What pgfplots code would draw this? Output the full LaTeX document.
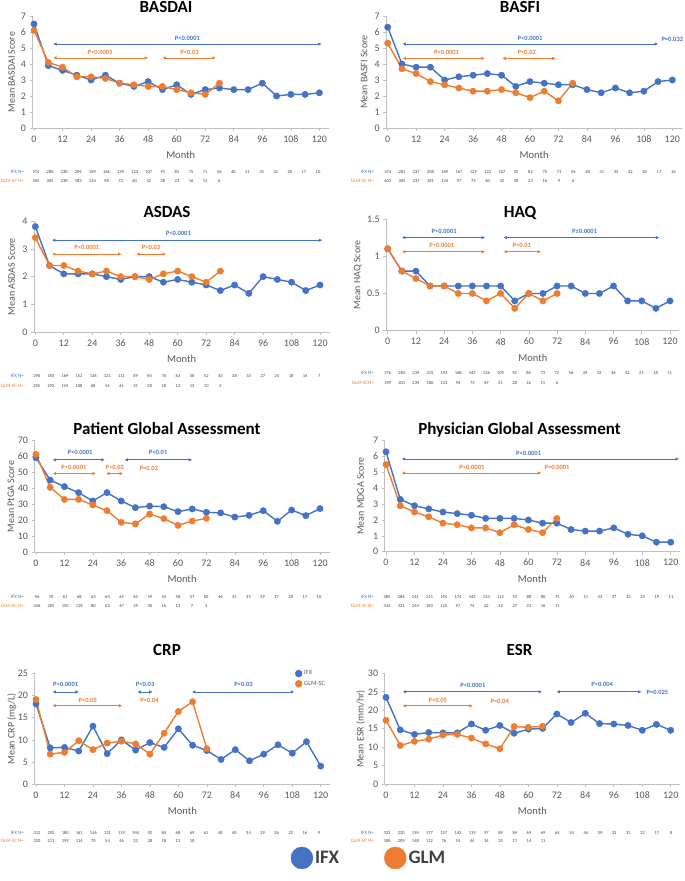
\documentclass[border=0pt]{standalone}
\usepackage{fontspec}
\setmainfont{Carlito}
\usepackage{pgfplots}
\pgfplotsset{compat=1.18}
\usetikzlibrary{arrows.meta}
\definecolor{ifx}{HTML}{4472C4}
\definecolor{glm}{HTML}{ED7D31}
\definecolor{axgray}{HTML}{BFBFBF}
\definecolor{tkgray}{HTML}{595959}
\definecolor{ntgray}{HTML}{404040}
\tikzset{
  arr/.style={line width=0.75pt,{Latex[length=3.5pt,width=3.5pt]}-{Latex[length=3.5pt,width=3.5pt]}},
  ptxt/.style={font=\fontsize{6.5}{7}\selectfont\bfseries,inner sep=0pt},
  ttl/.style={font=\fontsize{17}{20}\selectfont\bfseries,anchor=base,inner sep=0pt},
}
\pgfplotsset{
  panel/.style={scale only axis, clip=false, axis x line=bottom, axis y line=left,
    axis line style={draw=axgray,line width=0.6pt,-},
    xmin=-0.6, xmax=124, xtick={0,12,...,120}, ymin=0,
    tick style={draw=axgray,line width=0.6pt}, major tick length=3pt, tick align=outside,
    ticklabel style={font=\fontsize{10}{12}\selectfont,text=tkgray},
    xticklabel style={yshift=-1pt},
    /pgf/number format/assume math mode=true,
    xlabel={Month},
    every axis x label/.style={at={(axis description cs:0.5,0)},anchor=center,yshift=-27pt,font=\fontsize{10.5}{12}\selectfont,text=tkgray},
  },
  ylab/.style={every axis y label/.style={at={(axis description cs:#1,0.5)},rotate=90,anchor=center,font=\fontsize{10}{12}\selectfont,text=tkgray}},
  ifxp/.style={color=ifx,line width=1.4pt,mark=*,mark size=3.2pt,mark options={solid,fill=ifx,draw=ifx,line width=0.4pt}},
  glmp/.style={color=glm,line width=1.4pt,mark=*,mark size=3.2pt,mark options={solid,fill=glm,draw=glm,line width=0.4pt}},
}
\newcommand\Nrow[4]{\foreach \v [count=\i from 0] in {#4} {\node[font=\fontsize{4.5}{5}\selectfont,text=ntgray,inner sep=0pt] at ({#1pt+\i*#2pt},#3pt) {\v};}}
\newcommand\Nlab[4]{\node[font=\fontsize{5}{6}\selectfont,text=#3,anchor=east,inner sep=0pt] at (#1pt,#2pt) {#4};}
\begin{document}
\begin{tikzpicture}
\path[use as bounding box] (0pt,0pt) rectangle (685pt,881pt);

% ---------- BASDAI
\begin{axis}[panel, at={(32.6pt,753pt)}, width=296.3pt, height=112pt, ymax=7, ytick={0,1,...,7},
  ylab=-0.071, ylabel={Mean BASDAI Score}]
\addplot[ifxp] coordinates {(0,6.5)(6,3.9)(12,3.6)(18,3.3)(24,3.0)(30,3.3)(36,2.8)(42,2.6)(48,2.9)(54,2.4)(60,2.7)(66,2.1)(72,2.4)(78,2.5)(84,2.4)(90,2.4)(96,2.8)(102,2.0)(108,2.1)(114,2.1)(120,2.2)};
\addplot[glmp] coordinates {(0,6.1)(6,4.1)(12,3.8)(18,3.2)(24,3.2)(30,3.1)(36,2.8)(42,2.7)(48,2.6)(54,2.6)(60,2.4)(66,2.2)(72,2.1)(78,2.8)};
\draw[ifx,arr] (axis cs:8,5.25) -- (axis cs:121,5.25);
\node[ifx,ptxt] at (axis cs:64.5,5.6) {P<0.0001};
\draw[glm,arr] (axis cs:8,4.38) -- (axis cs:48,4.38);
\node[glm,ptxt] at (axis cs:27.8,4.75) {P<0.0001};
\draw[glm,arr] (axis cs:54,4.38) -- (axis cs:76.5,4.38);
\node[glm,ptxt] at (axis cs:65.4,4.75) {P<0.03};
\end{axis}
\node[ttl] at (166pt,868pt) {BASDAI};
\Nlab{24}{709}{ifx}{IFX N=}
\Nlab{24}{700}{glm}{GLM-SC N=}
\Nrow{36}{14.1}{709}{374,280,238,209,189,166,139,123,107,91,85,75,71,56,48,41,35,32,20,17,10}
\Nrow{36}{14.1}{700}{405,305,238,183,124,98,73,60,42,28,23,16,11,6}

% ---------- BASFI
\begin{axis}[panel, at={(386.3pt,753pt)}, width=295.5pt, height=112pt, ymax=7, ytick={0,1,...,7},
  ylab=-0.075, ylabel={Mean BASFI Score}]
\addplot[ifxp] coordinates {(0,6.3)(6,4.0)(12,3.8)(18,3.8)(24,3.0)(30,3.2)(36,3.3)(42,3.4)(48,3.3)(54,2.6)(60,2.9)(66,2.8)(72,2.7)(78,2.7)(84,2.4)(90,2.2)(96,2.5)(102,2.2)(108,2.3)(114,2.9)(120,3.0)};
\addplot[glmp] coordinates {(0,5.3)(6,3.7)(12,3.4)(18,2.9)(24,2.7)(30,2.5)(36,2.3)(42,2.3)(48,2.4)(54,2.2)(60,1.9)(66,2.3)(72,1.7)(78,2.8)};
\draw[ifx,arr] (axis cs:6.2,5.25) -- (axis cs:114,5.25);
\node[ifx,ptxt] at (axis cs:60,5.6) {P<0.0001};
\node[ifx,ptxt] at (axis cs:120,5.55) {P=0.032};
\draw[glm,arr] (axis cs:6.2,4.35) -- (axis cs:41,4.35);
\node[glm,ptxt] at (axis cs:24.8,4.75) {P<0.0001};
\draw[glm,arr] (axis cs:48.3,4.35) -- (axis cs:70.8,4.35);
\node[glm,ptxt] at (axis cs:58.6,4.75) {P<0.02};
\end{axis}
\node[ttl] at (520pt,868pt) {BASFI};
\Nlab{374}{709}{ifx}{IFX N=}
\Nlab{374}{700}{glm}{GLM-SC N=}
\Nrow{387.7}{14.28}{709}{374,281,237,208,189,167,139,123,107,92,85,75,71,56,48,41,35,32,20,17,16}
\Nrow{387.7}{14.28}{700}{403,305,237,181,124,97,73,60,42,28,23,16,9,6}

% ---------- ASDAS
\begin{axis}[panel, at={(33.9pt,548.7pt)}, width=295.6pt, height=111.3pt, ymax=4, ytick={0,1,...,4},
  ylab=-0.075, ylabel={Mean ASDAS Score}]
\addplot[ifxp] coordinates {(0,3.8)(6,2.4)(12,2.1)(18,2.1)(24,2.1)(30,2.0)(36,1.9)(42,2.0)(48,2.0)(54,1.8)(60,1.9)(66,1.8)(72,1.7)(78,1.5)(84,1.7)(90,1.4)(96,2.0)(102,1.9)(108,1.8)(114,1.5)(120,1.7)};
\addplot[glmp] coordinates {(0,3.4)(6,2.4)(12,2.4)(18,2.2)(24,2.1)(30,2.2)(36,2.0)(42,2.0)(48,1.9)(54,2.1)(60,2.2)(66,2.0)(72,1.8)(78,2.2)};
\draw[ifx,arr] (axis cs:7,3.31) -- (axis cs:121,3.31);
\node[ifx,ptxt] at (axis cs:60.3,3.56) {P<0.0001};
\draw[glm,arr] (axis cs:7,2.81) -- (axis cs:36.4,2.81);
\node[glm,ptxt] at (axis cs:21.7,3.04) {P<0.0001};
\draw[glm,arr] (axis cs:42.5,2.81) -- (axis cs:55.1,2.81);
\node[glm,ptxt] at (axis cs:48.8,3.04) {P<0.03};
\end{axis}
\node[ttl] at (167pt,663pt) {ASDAS};
\Nlab{24}{505.3}{ifx}{IFX N=}
\Nlab{24}{495.3}{glm}{GLM-SC N=}
\Nrow{36.7}{14.13}{505.3}{290,183,169,152,136,123,111,89,84,76,63,58,52,43,38,33,27,24,18,14,7}
\Nrow{36.7}{14.13}{495.3}{295,192,155,108,68,54,44,31,28,18,12,13,10,5}

% ---------- HAQ
\begin{axis}[panel, at={(386.3pt,550.3pt)}, width=293.1pt, height=111.7pt, ymax=1.5, ytick={0,0.5,1,1.5},
  ylab=-0.097, ylabel={Mean HAQ Score}]
\addplot[ifxp] coordinates {(0,1.1)(6,0.8)(12,0.8)(18,0.6)(24,0.6)(30,0.6)(36,0.6)(42,0.6)(48,0.6)(54,0.4)(60,0.5)(66,0.5)(72,0.6)(78,0.6)(84,0.5)(90,0.5)(96,0.6)(102,0.4)(108,0.4)(114,0.3)(120,0.4)};
\addplot[glmp] coordinates {(0,1.1)(6,0.8)(12,0.7)(18,0.6)(24,0.6)(30,0.5)(36,0.5)(42,0.4)(48,0.5)(54,0.3)(60,0.5)(66,0.4)(72,0.5)};
\draw[ifx,arr] (axis cs:6,1.25) -- (axis cs:41.4,1.25);
\node[ifx,ptxt] at (axis cs:24,1.34) {P<0.0001};
\draw[ifx,arr] (axis cs:49.2,1.25) -- (axis cs:115.5,1.25);
\node[ifx,ptxt] at (axis cs:83.7,1.34) {P≤0.0001};
\draw[glm,arr] (axis cs:6,1.06) -- (axis cs:41.4,1.06);
\node[glm,ptxt] at (axis cs:23,1.15) {P<0.0001};
\draw[glm,arr] (axis cs:49.2,1.06) -- (axis cs:65.2,1.06);
\node[glm,ptxt] at (axis cs:57,1.15) {P<0.01};
\end{axis}
\node[ttl] at (520pt,663.7pt) {HAQ};
\Nlab{374}{507.7}{ifx}{IFX N=}
\Nlab{374}{497.7}{glm}{GLM-SCN=}
\Nrow{387.7}{14.1}{507.7}{376,284,239,215,193,168,142,126,109,92,86,73,72,56,49,42,36,32,21,18,11}
\Nrow{387.7}{14.1}{497.7}{399,301,239,180,123,94,73,59,41,28,16,11,6}

% ---------- Patient Global Assessment
\begin{axis}[panel, at={(34.6pt,328.7pt)}, width=294.9pt, height=111.6pt, ymax=70, ytick={0,10,...,70},
  ylab=-0.080, ylabel={Mean PtGA Score}]
\addplot[ifxp] coordinates {(0,59.3)(6,45.3)(12,41.2)(18,37.4)(24,32.2)(30,37.4)(36,32.2)(42,28.0)(48,29.0)(54,28.6)(60,25.5)(66,27.2)(72,25.1)(78,24.7)(84,22.1)(90,23.2)(96,26.1)(102,19.4)(108,26.5)(114,23.0)(120,27.4)};
\addplot[glmp] coordinates {(0,61.4)(6,40.7)(12,33.2)(18,33.2)(24,29.7)(30,26.1)(36,18.8)(42,17.8)(48,24.0)(54,21.1)(60,16.9)(66,19.6)(72,21.3)};
\draw[ifx,arr] (axis cs:7,58) -- (axis cs:29.1,58);
\node[ifx,ptxt] at (axis cs:18.6,62.6) {P<0.0001};
\draw[ifx,arr] (axis cs:37.3,58) -- (axis cs:66,58);
\node[ifx,ptxt] at (axis cs:51.6,62.6) {P<0.01};
\draw[glm,arr] (axis cs:7,49.4) -- (axis cs:25.3,49.4);
\node[glm,ptxt] at (axis cs:16,53.4) {P<0.0001};
\draw[glm,arr] (axis cs:29.6,49.4) -- (axis cs:36.8,49.4);
\node[glm,ptxt] at (axis cs:33.3,53.4) {P<0.02};
\node[glm,ptxt] at (axis cs:47.7,52.8) {P=0.02};
\end{axis}
\node[ttl] at (167pt,446pt) {Patient Global Assessment};
\Nlab{24}{284}{ifx}{IFX N=}
\Nlab{24}{275}{glm}{GLM-SC N=}
\Nrow{37}{14.1}{284}{96,70,61,68,63,64,65,65,59,54,58,57,60,46,41,35,29,27,20,17,10}
\Nrow{37}{14.1}{275}{256,205,150,118,80,62,47,39,30,16,11,7,4}

% ---------- Physician Global Assessment
\begin{axis}[panel, at={(384.6pt,329.3pt)}, width=295.6pt, height=111pt, ymax=7, ytick={0,1,...,7},
  ylab=-0.081, ylabel={Mean MDGA Score}]
\addplot[ifxp] coordinates {(0,6.3)(6,3.3)(12,2.9)(18,2.7)(24,2.5)(30,2.4)(36,2.3)(42,2.1)(48,2.1)(54,2.1)(60,2.0)(66,1.8)(72,1.8)(78,1.4)(84,1.3)(90,1.3)(96,1.5)(102,1.1)(108,1.0)(114,0.6)(120,0.6)};
\addplot[glmp] coordinates {(0,5.5)(6,2.9)(12,2.5)(18,2.2)(24,1.8)(30,1.7)(36,1.5)(42,1.5)(48,1.2)(54,1.7)(60,1.4)(66,1.2)(72,2.1)};
\draw[ifx,arr] (axis cs:6.6,5.85) -- (axis cs:123.5,5.85);
\node[ifx,ptxt] at (axis cs:60.1,6.2) {P<0.0001};
\draw[glm,arr] (axis cs:6.6,4.96) -- (axis cs:65.5,4.96);
\node[glm,ptxt] at (axis cs:36.2,5.3) {P<0.0001};
\node[glm,ptxt] at (axis cs:72.1,5.3) {P=0.0001};
\end{axis}
\node[ttl] at (519.5pt,446pt) {Physician Global Assessment};
\Nlab{374}{284}{ifx}{IFX N=}
\Nlab{374}{275}{glm}{GLM-SC N=}
\Nrow{387}{14.2}{284}{385,286,241,215,194,174,145,124,112,93,88,80,75,60,51,43,37,33,24,19,11}
\Nrow{387}{14.2}{275}{414,321,244,183,125,97,74,62,42,27,23,16,11}

% ---------- CRP
\begin{axis}[panel, at={(34.6pt,96.7pt)}, width=295.6pt, height=111pt, ymax=25, ytick={0,5,...,25},
  ylab=-0.077, ylabel={Mean CRP (mg/L)},
  legend style={at={(axis description cs:0.881,1.043)},anchor=north west,draw=none,fill=none,
    font=\fontsize{6.5}{7}\selectfont,text=tkgray,row sep=0.5pt,inner sep=0pt},
  legend cell align=left,
  legend image code/.code={\draw[#1,mark size=3.5pt] plot coordinates {(3.5pt,0pt)};}]
\addplot[ifxp] coordinates {(0,18.1)(6,8.2)(12,8.3)(18,7.5)(24,13.1)(30,6.9)(36,10.0)(42,7.7)(48,9.4)(54,8.3)(60,12.5)(66,8.8)(72,7.6)(78,5.6)(84,7.8)(90,5.3)(96,6.8)(102,8.9)(108,7.0)(114,9.6)(120,4.1)};
\addlegendentry{IFX}
\addplot[glmp] coordinates {(0,19.1)(6,6.8)(12,7.2)(18,9.8)(24,7.8)(30,9.3)(36,9.7)(42,9.1)(48,6.8)(54,11.5)(60,16.4)(66,18.6)(72,8.0)};
\addlegendentry{GLM-SC}
\draw[ifx,arr] (axis cs:6.9,20.8) -- (axis cs:18.1,20.8);
\node[ifx,ptxt] at (axis cs:12.5,22.5) {P<0.0001};
\draw[ifx,arr] (axis cs:42.7,20.8) -- (axis cs:49.2,20.8);
\node[ifx,ptxt] at (axis cs:46,22.5) {P<0.03};
\draw[ifx,arr] (axis cs:65.7,20.8) -- (axis cs:108.9,20.8);
\node[ifx,ptxt] at (axis cs:87.5,22.5) {P<0.03};
\draw[glm,arr] (axis cs:6.9,17.7) -- (axis cs:36.4,17.7);
\node[glm,ptxt] at (axis cs:21.8,19.0) {P<0.05};
\node[glm,ptxt] at (axis cs:47.8,18.8) {P=0.04};
\end{axis}
\node[ttl] at (167pt,225.3pt) {CRP};
\Nlab{24}{48}{ifx}{IFX N=}
\Nlab{24}{40}{glm}{GLM-SC N=}
\Nrow{37}{14.1}{48}{312,202,180,161,146,131,119,944,92,84,68,69,61,48,40,34,29,26,22,16,9}
\Nrow{37}{14.1}{40}{320,211,159,114,70,54,46,32,28,18,13,10}

% ---------- ESR
\begin{axis}[panel, at={(384.6pt,96.7pt)}, width=295.6pt, height=111pt, ymax=30, ytick={0,5,...,30},
  ylab=-0.081, ylabel={Mean ESR (mm/hr)}]
\addplot[ifxp] coordinates {(0,23.5)(6,14.7)(12,13.5)(18,14.0)(24,13.9)(30,13.9)(36,16.3)(42,14.6)(48,15.9)(54,13.8)(60,14.9)(66,15.1)(72,19.0)(78,16.7)(84,19.2)(90,16.4)(96,16.3)(102,15.9)(108,14.6)(114,16.2)(120,14.6)};
\addplot[glmp] coordinates {(0,17.3)(6,10.5)(12,11.6)(18,12.2)(24,13.3)(30,13.5)(36,12.5)(42,10.9)(48,9.6)(54,15.6)(60,15.4)(66,15.7)};
\draw[ifx,arr] (axis cs:7,25) -- (axis cs:65.8,25);
\node[ifx,ptxt] at (axis cs:36.6,26.6) {P<0.0001};
\draw[ifx,arr] (axis cs:71.8,25) -- (axis cs:107.7,25);
\node[ifx,ptxt] at (axis cs:91.1,27.0) {P<0.004};
\node[ifx,ptxt] at (axis cs:114.4,24.9) {P=0.025};
\draw[glm,arr] (axis cs:7,21.2) -- (axis cs:36.6,21.2);
\node[glm,ptxt] at (axis cs:21.8,22.8) {P<0.05};
\node[glm,ptxt] at (axis cs:47.9,22.5) {P=0.04};
\end{axis}
\node[ttl] at (519.5pt,225.3pt) {ESR};
\Nlab{374}{48}{ifx}{IFX N=}
\Nlab{374}{40}{glm}{GLM-SC N=}
\Nrow{387}{14.2}{48}{333,220,194,177,157,142,119,97,89,84,69,69,64,54,44,39,33,31,22,17,8}
\Nrow{387}{14.2}{40}{308,209,148,112,76,55,44,34,25,17,14,11}

% ---------- bottom legend
\begin{axis}[at={(369pt,23pt)}, anchor=center, scale only axis, width=10pt, height=10pt, hide axis,
  xmin=0, xmax=1, ymin=0, ymax=1, legend columns=2,
  legend style={at={(0.5,0.5)},anchor=center,draw=none,fill=none,
    font=\fontsize{19}{22}\selectfont\bfseries,text=ntgray,
    /tikz/every even column/.append style={column sep=43pt}},
  legend image code/.code={\fill[#1] (11pt,0pt) circle (11pt);}]
\addlegendimage{ifx}
\addlegendentry{IFX}
\addlegendimage{glm}
\addlegendentry{GLM}
\end{axis}
\end{tikzpicture}
\end{document}
